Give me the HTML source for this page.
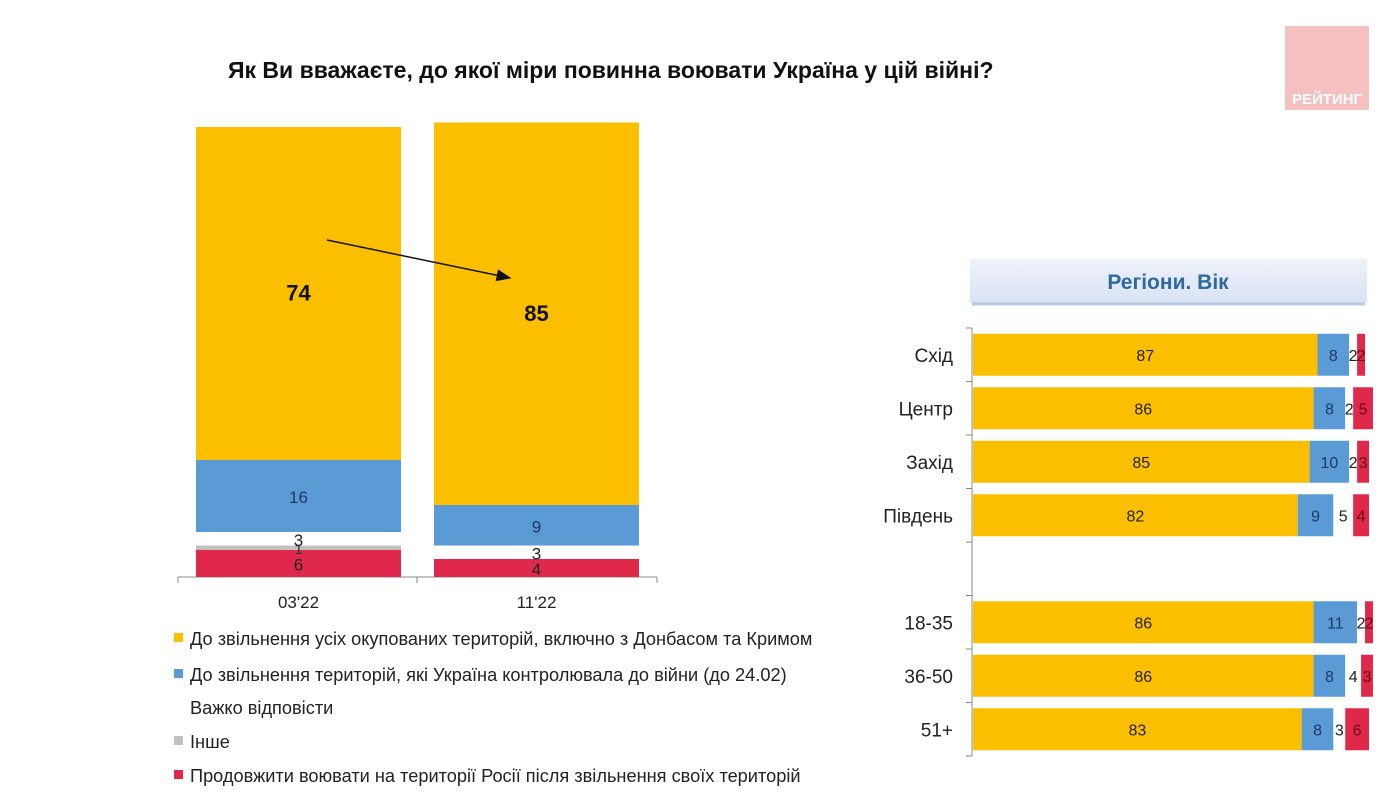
<!DOCTYPE html>
<html><head><meta charset="utf-8"><style>
body{margin:0;background:#fff;width:1384px;height:804px;overflow:hidden;font-family:"Liberation Sans",sans-serif;}
</style></head><body>
<svg width="1384" height="804" xmlns="http://www.w3.org/2000/svg" font-family="Liberation Sans, sans-serif">
<defs>
<linearGradient id="hg" x1="0" y1="0" x2="0" y2="1"><stop offset="0" stop-color="#eef2fa"/><stop offset="1" stop-color="#d9e3f3"/></linearGradient>
<marker id="ah" markerWidth="10" markerHeight="8" refX="9" refY="4" orient="auto"><path d="M0,0 L10,4 L0,8 Z" fill="#111"/></marker>
</defs>
<text x="228" y="78" font-size="23" font-weight="bold" fill="#111">Як Ви вважаєте, до якої міри повинна воювати Україна у цій війні?</text>
<rect x="1285" y="26" width="84" height="84" fill="#f4c0c0"/>
<text x="1327" y="104" font-size="15" font-weight="bold" fill="#fff" text-anchor="middle">РЕЙТИНГ</text>
<g id="left"></g>
<line x1="327" y1="240" x2="510" y2="278" stroke="#111" stroke-width="1.5" marker-end="url(#ah)"/>
<g id="legend"></g>
<rect x="970" y="259" width="397" height="44" fill="url(#hg)"/>
<line x1="972" y1="304" x2="1365" y2="304" stroke="#b8c8e0" stroke-width="3"/>
<text x="1168" y="289" font-size="21" font-weight="bold" fill="#2e6a9e" text-anchor="middle">Регіони. Вік</text>
<g id="right"></g>
</svg>
<script>
const periods=["03'22","11'22"];
const liberateAll=[74,85];
const prewar=[16,9];
const hard=[3,3];
const other=[1,0];
const russia=[6,4];
const rows=["Схід","Центр","Захід","Південь","","18-35","36-50","51+"];
const rYellow=[87,86,85,82,null,86,86,83];
const rBlue=[8,8,10,9,null,11,8,8];
const rHard=[2,2,2,5,null,2,4,3];
const rRed=[2,5,3,4,null,2,3,6];
const legendLabels=["До звільнення усіх окупованих територій, включно з Донбасом та Кримом","До звільнення територій, які Україна контролювала до війни (до 24.02)","Важко відповісти","Інше","Продовжити воювати на території Росії після звільнення своїх територій"];
const legendColors=["#fcbf00","#5b9bd5","none","#c0c0c0","#e0294a"];
const NS="http://www.w3.org/2000/svg";
function mk(p,t,a){const e=document.createElementNS(NS,t);for(const k in a)e.setAttribute(k,a[k]);p.appendChild(e);return e;}
const L=document.getElementById('left');
const base=577, ppu=4.50, barX=[196,434], barW=205;
const yv=v=>v*ppu;
mk(L,'line',{x1:178,y1:base,x2:657,y2:base,stroke:'#888'});
[178,417,657].forEach(x=>mk(L,'line',{x1:x,y1:base,x2:x,y2:base+6,stroke:'#888'}));
periods.forEach((p,i)=>{
  const segs=[[russia[i],'#e0294a','russia',false],[other[i],'#c0c0c0','other',null],[hard[i],'#fff','hard',false],[prewar[i],'#5b9bd5','prewar',false],[liberateAll[i],'#fcbf00','liberate-all',true]];
  let y=base;
  segs.forEach(s=>{
    const h=yv(s[0]); y-=h;
    if(s[0]>0){
    const r=mk(L,'rect',{x:barX[i],y:y,width:barW,height:h,fill:s[1]});
    
    }
    if(s[3]!==null && s[0]>0){
      const t=mk(L,'text',{x:barX[i]+barW/2,y:y+h/2+7,'font-size':s[3]?22:17,'font-weight':s[3]?'bold':'normal',fill:s[3]?'#111':(s[2]=='prewar'?'#1f3864':'#222'),'text-anchor':'middle'});
      t.textContent=s[0];
      
      
    }
    if(s[2]=='other'&&s[0]>0){const t=mk(L,'text',{x:barX[i]+barW/2,y:y+h/2+6,'font-size':15,fill:'#333','text-anchor':'middle'});t.textContent=s[0];}
  });
  const t=mk(L,'text',{x:barX[i]+barW/2,y:608,'font-size':17,fill:'#222','text-anchor':'middle'});
  t.textContent=p;
  
  
});
const G=document.getElementById('legend');
const ly=[645,681,714,748,782];
legendLabels.forEach((l,i)=>{
  if(legendColors[i]!='none') mk(G,'rect',{x:174,y:ly[i]-12,width:9,height:9,fill:legendColors[i]});
  const t=mk(G,'text',{x:190,y:ly[i],'font-size':18.2,fill:'#222'});
  t.textContent=l;
  
  
});
const R=document.getElementById('right');
const ax=972, topY=328, band=53.5, sc=3.96, bh=42;
mk(R,'line',{x1:ax,y1:topY,x2:ax,y2:topY+band*8,stroke:'#888'});
for(let k=0;k<=8;k++) mk(R,'line',{x1:ax-6,y1:topY+k*band,x2:ax,y2:topY+k*band,stroke:'#888'});
rows.forEach((r,i)=>{
  const cy=topY+i*band+band/2;
  if(rYellow[i]===null) return;
  const lt=mk(R,'text',{x:953,y:cy+7,'font-size':19,fill:'#222','text-anchor':'end'});
  lt.textContent=r;
  
  
  const segs=[[rYellow[i],'#fcbf00','#222'],[rBlue[i],'#5b9bd5','#1f3864'],[rHard[i],'#fff','#222'],[rRed[i],'#e0294a','#6a0010']];
  let x=ax+1;
  segs.forEach((s,j)=>{
    const w=s[0]*sc;
    const b=mk(R,'rect',{x:x,y:cy-bh/2,width:w,height:bh,fill:s[1]});
    
    
    const t=mk(R,'text',{x:x+w/2,y:cy+6,'font-size':16,fill:s[2],'text-anchor':'middle'});
    t.textContent=s[0];
    x+=w;
  });
});
</script>
</body></html>
